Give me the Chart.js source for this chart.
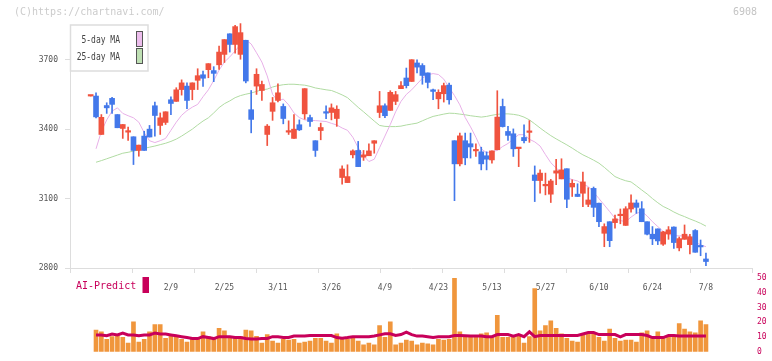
<!DOCTYPE html>
<html>
<head>
<meta charset="utf-8">
<script src="https://cdn.jsdelivr.net/npm/chart.js@4.4.0/dist/chart.umd.min.js"></script>
<style>
  html, body { margin: 0; padding: 0; background: #fff; }
  #wrap { position: relative; width: 772px; height: 361px; }
  #wrap canvas { position: absolute; left: 0; top: 0; }
</style>
</head>
<body>
<div id="wrap">
  <canvas id="price" width="772" height="361"></canvas>
  <canvas id="volume" width="772" height="361"></canvas>
</div>
<script>
const FONT = 'DejaVu Sans Mono'
const UP = '#f0533f'
const DOWN = '#4378ea'
const CRIMSON = '#c8005a'

// first entry is the doji cut at the left edge (no volume / MA for it)
const opens = [3543,
  3543,3377,3502,3533,3463,3403,3387,3367,3308,3370,
  3400,3501,3416,3429,3527,3520,3571,3586,3571,3611,
  3635,3657,3653,3678,3723,3812,3766,3723,3784,3484,
  3586,3567,3377,3477,3524,3498,3387,3360,3419,3466,
  3450,3350,3394,3475,3472,3446,3191,3169,3289,3308,
  3279,3285,3339,3472,3501,3481,3520,3575,3621,3606,
  3686,3675,3643,3570,3531,3553,3590,3350,3250,3350,
  3337,3306,3302,3285,3267,3311,3498,3390,3380,3316,
  3364,3386,3202,3178,3155,3119,3210,3185,3229,3150,
  3119,3123,3075,3144,3080,2950,3000,2996,3026,2984,
  3055,3081,3056,3000,2946,2969,2903,2947,2977,2887,
  2924,2901,2962,2895,2839]
const closes = [3544,
  3453,3451,3492,3507,3406,3420,3390,3308,3331,3308,
  3366,3459,3449,3475,3511,3570,3600,3524,3600,3631,
  3620,3683,3641,3733,3787,3766,3843,3817,3608,3442,
  3637,3593,3413,3514,3557,3446,3390,3400,3397,3575,
  3433,3308,3407,3469,3492,3486,3228,3195,3306,3238,
  3289,3306,3350,3501,3458,3559,3549,3588,3588,3700,
  3668,3632,3602,3563,3559,3588,3527,3250,3371,3276,
  3323,3311,3250,3270,3306,3452,3411,3373,3315,3319,
  3350,3388,3178,3210,3158,3176,3220,3224,3097,3166,
  3109,3172,3094,3062,3000,2979,2918,3012,3029,3056,
  3081,3062,3000,2946,2926,2917,2956,2965,2910,2927,
  2946,2935,2868,2891,2828]
const highs = [3544,
  3557,3463,3514,3538,3463,3420,3409,3367,3331,3391,
  3416,3517,3470,3475,3540,3579,3613,3600,3600,3661,
  3651,3683,3670,3759,3787,3812,3849,3856,3784,3567,
  3661,3608,3420,3537,3596,3509,3436,3463,3440,3575,
  3461,3350,3426,3501,3509,3501,3241,3246,3311,3347,
  3308,3337,3350,3563,3509,3566,3563,3606,3664,3700,
  3700,3683,3643,3573,3570,3599,3599,3350,3383,3383,
  3383,3337,3322,3302,3306,3566,3530,3412,3401,3319,
  3419,3437,3241,3224,3210,3183,3270,3272,3229,3181,
  3164,3214,3147,3150,3080,2991,3000,3029,3055,3065,
  3116,3094,3087,3000,2979,2969,2958,2979,2978,2934,
  2986,2946,2966,2921,2865]
const lows = [3543,
  3449,3377,3468,3468,3406,3360,3351,3247,3283,3308,
  3366,3370,3377,3420,3463,3520,3547,3489,3527,3571,
  3585,3622,3605,3658,3688,3733,3728,3702,3600,3384,
  3550,3524,3329,3438,3518,3423,3377,3360,3394,3443,
  3412,3282,3354,3445,3440,3412,3162,3169,3276,3238,
  3265,3285,3296,3450,3450,3481,3506,3575,3578,3606,
  3643,3594,3578,3527,3488,3517,3508,3091,3241,3246,
  3275,3282,3224,3224,3253,3311,3409,3351,3282,3238,
  3340,3343,3087,3123,3116,3083,3160,3185,3061,3109,
  3109,3065,3065,3022,2979,2892,2892,2972,2991,2984,
  3041,3036,3000,2943,2901,2901,2898,2924,2885,2874,
  2924,2861,2868,2853,2810]

const ma5 = [null,
  3315,3390,3440,3478,3492,3468,3458,3449,3430,3385,
  3350,3342,3350,3360,3395,3430,3460,3480,3495,3507,
  3540,3570,3610,3655,3690,3712,3738,3765,3785,3768,
  3730,3690,3630,3550,3522,3530,3505,3470,3450,3440,
  3438,3437,3435,3433,3425,3418,3405,3395,3365,3320,
  3285,3260,3270,3320,3370,3420,3475,3520,3550,3570,
  3595,3620,3635,3640,3636,3616,3580,3545,3505,3450,
  3410,3365,3315,3298,3303,3308,3325,3338,3358,3376,
  3376,3356,3345,3327,3290,3255,3232,3212,3190,3182,
  3176,3162,3152,3128,3100,3072,3044,3015,3005,3000,
  3020,3036,3044,3025,3000,2979,2958,2945,2940,2939,
  2939,2937,2912,2900,2892]
const ma25 = [null,
  3257,3264,3272,3280,3288,3296,3300,3305,3311,3317,
  3322,3327,3333,3339,3347,3357,3370,3385,3400,3418,
  3435,3449,3470,3493,3510,3522,3536,3545,3551,3556,
  3563,3570,3573,3582,3588,3592,3594,3594,3592,3590,
  3585,3578,3574,3570,3567,3558,3548,3536,3515,3494,
  3475,3455,3435,3416,3412,3411,3411,3413,3418,3422,
  3426,3436,3446,3455,3460,3465,3469,3468,3465,3462,
  3458,3455,3452,3455,3460,3464,3466,3466,3464,3460,
  3452,3440,3423,3405,3388,3372,3358,3345,3332,3318,
  3303,3289,3278,3266,3253,3235,3215,3195,3185,3177,
  3172,3155,3137,3120,3100,3082,3066,3055,3042,3031,
  3022,3012,3003,2993,2981]

const volumes = [null,
  14.7,13.4,8.4,10.3,10.9,9.7,5.9,20.3,6.6,8.4,
  13.4,18.4,18.4,9.1,10.9,9.7,8.4,6.6,8.4,8.4,
  13.4,10.3,8.4,15.9,14.1,9.7,9.1,10.3,14.7,14.1,
  10.5,5.9,11.6,7.2,5.9,8.4,7.8,8.4,5.9,6.6,
  7.2,9.1,9.1,7.2,5.9,12.2,8.4,8.4,9.7,7.2,
  4.7,5.9,4.7,17.8,9.7,20.3,4.7,5.9,7.8,7.2,
  4.7,5.9,5.3,4.7,8.4,7.8,8.4,49.7,13.4,10.9,
  10.3,9.7,12.2,12.8,9.7,24.7,9.7,9.7,9.7,10.9,
  5.9,10.3,42.8,14.1,17.8,20.9,15.9,12.2,9.1,7.2,
  6.6,11.6,12.2,12.2,9.7,7.2,15.3,9.1,7.2,7.8,
  7.8,6.6,12.8,14.1,9.7,13.4,9.7,10.3,10.9,19.1,
  15.3,13.4,12.8,20.9,18.4]
const aiPredict = [null,
  11.4,11.4,10.8,12.0,11.4,12.6,11.4,11.4,10.8,11.4,
  11.4,12.6,12.0,12.0,11.4,10.8,10.2,9.6,8.9,8.9,
  10.2,9.6,8.9,10.2,10.2,10.2,9.6,9.6,8.9,8.6,
  8.6,9.0,9.0,10.2,10.2,9.6,9.6,10.6,10.6,10.6,
  11.0,11.0,11.0,11.0,11.0,9.6,9.2,9.6,10.2,10.2,
  10.2,10.2,10.6,11.4,12.2,12.2,11.0,11.6,13.2,11.6,
  10.6,10.6,10.2,9.6,10.2,10.2,10.2,11.0,11.0,10.8,
  10.6,10.6,10.6,10.2,10.2,11.6,11.6,11.6,10.6,11.6,
  10.2,13.5,10.2,11.0,11.0,11.0,11.0,11.0,11.0,11.0,
  11.0,12.0,13.0,13.0,11.6,11.6,11.6,11.6,10.0,11.6,
  11.6,11.6,11.6,11.0,9.6,9.6,9.6,11.0,11.0,10.6,
  10.6,10.6,10.6,10.6,10.6]

const dateLabels = ['2/9','2/25','3/11','3/26','4/9','4/23','5/13','5/27','6/10','6/24','7/8']
const dateIndex = [15,25,35,45,55,65,75,85,95,105,115]
const priceTicks = [2800,3100,3400,3700]

const xMin = -3.77
const xMax = 123.7

const xy = arr => arr.map((v, i) => ({ x: i, y: v }))
const candleColors = opens.map((o, i) => closes[i] >= o ? UP : DOWN)

const decorations = {
  id: 'decorations',
  afterDraw(chart) {
    const ctx = chart.ctx
    ctx.save()
    ctx.font = `10px ${FONT}`
    ctx.textBaseline = 'middle'
    ctx.textAlign = 'left'
    ctx.fillStyle = '#cccccc'
    ctx.fillText('(C)https://chartnavi.com/', 14, 12)
    ctx.textAlign = 'right'
    ctx.fillStyle = '#c4c4c4'
    ctx.fillText('6908', 757, 12)

    // moving average legend
    ctx.fillStyle = '#fff'
    ctx.fillRect(70.5, 25, 77.5, 46)
    ctx.strokeStyle = '#dddddd'
    ctx.lineWidth = 1.5
    ctx.strokeRect(70.5, 25, 77.5, 46)
    const items = [['5-day MA', '#ecbdec', 40, 31.5], ['25-day MA', '#bfe0b4', 57, 48.5]]
    items.forEach(([text, color, ty, by]) => {
      ctx.save()
      ctx.translate(120, ty)
      ctx.scale(0.8, 1)
      ctx.fillStyle = '#444'
      ctx.textAlign = 'right'
      ctx.fillText(text, 0, 0)
      ctx.restore()
      ctx.fillStyle = color
      ctx.fillRect(136.5, by, 6, 15)
      ctx.strokeStyle = '#555'
      ctx.lineWidth = 1
      ctx.strokeRect(136.5, by, 6, 15)
    })

    // AI-Predict legend
    ctx.textAlign = 'left'
    ctx.fillStyle = CRIMSON
    ctx.fillText('AI-Predict', 76, 286)
    ctx.fillRect(142.5, 277, 6.5, 16)
    ctx.restore()
  }
}

new Chart(document.getElementById('price'), {
  type: 'bar',
  data: {
    datasets: [
      {
        type: 'line', data: xy(ma25), borderColor: '#b0dba2', borderWidth: 1,
        pointRadius: 0, order: 4, clip: false
      },
      {
        type: 'line', data: xy(ma5), borderColor: '#e8b0e8', borderWidth: 1,
        pointRadius: 0, order: 3, clip: false
      },
      {
        data: opens.map((o, i) => ({ x: i, y: [lows[i], highs[i]] })),
        backgroundColor: candleColors, barThickness: 1, grouped: false, order: 2, clip: false
      },
      {
        data: opens.map((o, i) => ({ x: i, y: [o, closes[i]] })),
        backgroundColor: candleColors, barThickness: 5, minBarLength: 1.5,
        grouped: false, order: 1, clip: false
      }
    ]
  },
  options: {
    responsive: false,
    animation: false,
    devicePixelRatio: 1,
    layout: { padding: { left: 0, right: 19.5, top: 25, bottom: 0 } },
    plugins: { legend: { display: false }, tooltip: { enabled: false } },
    scales: {
      x: {
        type: 'linear', position: 'bottom', min: xMin, max: xMax, offset: false, weight: 0,
        grid: { drawOnChartArea: false, color: '#dddddd', tickLength: 5, offset: false },
        border: { color: '#dddddd' },
        ticks: { display: false },
        afterBuildTicks: s => {
          s.ticks = Array.from({ length: 12 }, (_, k) => ({ value: xMin + k * (xMax - xMin) / 11 }))
        },
        afterFit: s => { s.height = 5 }
      },
      xd: {
        type: 'linear', axis: 'x', position: 'bottom', min: xMin, max: xMax, offset: false, weight: 1,
        grid: { display: false, drawTicks: false },
        border: { display: false },
        ticks: {
          autoSkip: false, maxRotation: 0, padding: 10, color: '#555',
          font: { family: FONT, size: 8 },
          callback: (v, i) => dateLabels[i]
        },
        afterBuildTicks: s => { s.ticks = dateIndex.map(v => ({ value: v })) },
        afterFit: s => { s.height = 361 - 268 - 5 }
      },
      y: {
        type: 'linear', position: 'left', min: 2800, max: 3850, beginAtZero: false,
        grid: { drawOnChartArea: false, color: '#dddddd', tickLength: 5.5 },
        border: { color: '#dddddd' },
        ticks: {
          color: '#555', padding: 7, font: { family: FONT, size: 8 },
          callback: v => String(v)
        },
        afterBuildTicks: s => { s.ticks = priceTicks.map(v => ({ value: v })) },
        afterFit: s => { s.width = 70.5 }
      }
    }
  },
  plugins: [decorations]
})

new Chart(document.getElementById('volume'), {
  type: 'bar',
  data: {
    datasets: [
      {
        type: 'line', data: xy(aiPredict), borderColor: CRIMSON, borderWidth: 3,
        pointRadius: 0, order: 0
      },
      {
        data: xy(volumes), backgroundColor: '#f0963c', barThickness: 4, grouped: false, order: 1
      }
    ]
  },
  options: {
    responsive: false,
    animation: false,
    devicePixelRatio: 1,
    layout: { padding: { left: 70.5, right: 0, top: 278, bottom: 2.5 } },
    plugins: { legend: { display: false }, tooltip: { enabled: false } },
    scales: {
      x: { type: 'linear', min: xMin, max: xMax, offset: false, display: false },
      y: {
        position: 'right', min: 0, max: 50, beginAtZero: true,
        grid: { display: false, drawTicks: false },
        border: { display: false },
        ticks: { stepSize: 10, color: CRIMSON, padding: 4.5, font: { family: FONT, size: 8 } },
        afterFit: s => { s.width = 19.5 }
      }
    }
  }
})
</script>
</body>
</html>
